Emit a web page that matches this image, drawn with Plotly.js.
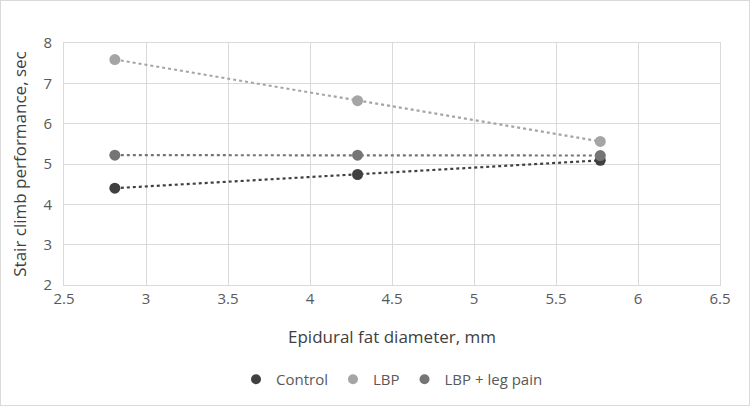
<!DOCTYPE html>
<html>
<head>
<meta charset="utf-8">
<script src="https://cdn.plot.ly/plotly-3.0.1.min.js"></script>
<style>
html,body{margin:0;padding:0;background:#fff;}
#wrap{position:relative;width:750px;height:406px;}
#chart{width:750px;height:406px;}
#frame{position:absolute;left:0;top:0;width:748px;height:404px;border:1px solid #d9d9d9;pointer-events:none;}
</style>
</head>
<body>
<div id="wrap"><div id="chart"></div><div id="frame"></div></div>
<script>
const xValues = [2.81, 4.29, 5.77];
const controlY = [4.40, 4.74, 5.09];
const lbpY = [7.59, 6.57, 5.56];
const lbpLegY = [5.22, 5.22, 5.21];
const seriesNames = ["Control", "LBP", "LBP + leg pain"];
const seriesColors = ["#404040", "#a5a5a5", "#757575"];
const xTicks = [2.5, 3, 3.5, 4, 4.5, 5, 5.5, 6, 6.5];
const yTicks = [2, 3, 4, 5, 6, 7, 8];

const ys = [controlY, lbpY, lbpLegY];
const traces = [];
ys.forEach((y, i) => {
  traces.push({
    x: xValues, y: y, name: seriesNames[i], type: 'scatter', mode: 'lines+markers',
    line: {color: seriesColors[i], dash: 'dot', width: 2.2},
    marker: {color: seriesColors[i], size: 11}, showlegend: false
  });
});
ys.forEach((y, i) => {
  traces.push({
    x: [null], y: [null], name: seriesNames[i], type: 'scatter', mode: 'markers',
    marker: {color: seriesColors[i], size: 10}, showlegend: true
  });
});

const font = "'Open Sans', 'Liberation Sans', sans-serif";
const layout = {
  width: 750, height: 406,
  margin: {l: 64, r: 30, t: 43, b: 120},
  paper_bgcolor: '#fff', plot_bgcolor: '#fff',
  font: {family: font, color: '#595959', size: 14},
  showlegend: true,
  legend: {orientation: 'h', x: 0.5, xanchor: 'center', y: -0.385, yanchor: 'middle',
           font: {size: 15, color: '#595959'}, itemwidth: 30, tracegroupgap: 0},
  xaxis: {range: [2.5, 6.5], tickvals: xTicks, ticktext: xTicks.map(String),
          showgrid: true, gridcolor: '#d9d9d9', gridwidth: 1, zeroline: false,
          showline: true, linecolor: '#d9d9d9', mirror: true, ticks: '',
          tickfont: {size: 15, color: '#595959'},
          title: {text: 'Epidural fat diameter, mm', font: {size: 17, color: '#404040'}, standoff: 24}},
  yaxis: {range: [2, 8], tickvals: yTicks, ticktext: yTicks.map(String),
          showgrid: true, gridcolor: '#d9d9d9', gridwidth: 1, zeroline: false,
          showline: true, linecolor: '#d9d9d9', mirror: true, ticks: '',
          tickfont: {size: 15, color: '#595959'}, ticklabelstandoff: 8,
          title: {text: 'Stair climb performance, sec', font: {size: 17, color: '#404040'}, standoff: 12}}
};
Plotly.newPlot('chart', traces, layout, {displayModeBar: false, staticPlot: true});
</script>
</body>
</html>
